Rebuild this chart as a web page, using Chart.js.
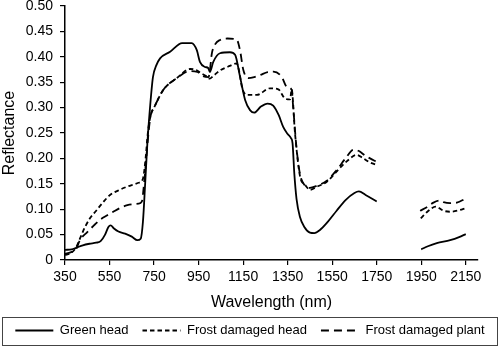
<!DOCTYPE html>
<html><head><meta charset="utf-8">
<script src="https://cdn.jsdelivr.net/npm/chart.js@4/dist/chart.umd.min.js"></script>
<style>html,body{margin:0;padding:0;background:#fff}#wrap{width:500px;height:349px;position:relative}</style>
</head><body><div id="wrap"><canvas id="c"></canvas></div>
<script>
// ---- data ----
const xTickValues = [350,550,750,950,1150,1350,1550,1750,1950,2150];
const yTickStep = 0.05;

const greenHeadNm = [350,380,400,430,460,490,510,530,545,555,570,590,620,650,675,690,700,710,720,730,745,760,777,822,876,919,942,956,979,993,1001,1016,1046,1091,1114,1136,1159,1181,1200,1230,1260,1285,1310,1330,1350,1365,1372,1380,1390,1405,1425,1450,1470,1495,1530,1570,1610,1650,1670,1700,1750,1850,1950,1980,2020,2080,2120,2150];
const greenHead   = [0.020,0.021,0.024,0.029,0.032,0.034,0.037,0.050,0.065,0.068,0.062,0.056,0.052,0.046,0.039,0.042,0.075,0.150,0.230,0.290,0.360,0.383,0.397,0.410,0.427,0.427,0.413,0.390,0.380,0.378,0.370,0.390,0.407,0.409,0.404,0.361,0.315,0.295,0.290,0.302,0.308,0.304,0.285,0.262,0.248,0.240,0.230,0.170,0.120,0.085,0.065,0.054,0.053,0.059,0.075,0.097,0.118,0.132,0.135,0.128,0.115,null,0.021,0.027,0.033,0.039,0.045,0.051];

const frostHeadNm = [350,375,400,420,440,462,490,520,552,590,627,660,680,700,712,722,735,750,792,852,912,940,960,985,1000,1015,1046,1090,1121,1133,1145,1166,1211,1271,1308,1338,1361,1368,1383,1406,1428,1451,1481,1526,1578,1620,1660,1690,1720,1750,1850,1948,1980,2015,2050,2080,2120,2150];
const frostHead   = [0.010,0.013,0.025,0.045,0.065,0.082,0.097,0.113,0.128,0.137,0.144,0.149,0.152,0.160,0.200,0.250,0.285,0.300,0.335,0.358,0.376,0.374,0.368,0.362,0.357,0.362,0.373,0.382,0.387,0.370,0.340,0.325,0.325,0.338,0.336,0.318,0.316,0.336,0.250,0.164,0.148,0.138,0.144,0.154,0.178,0.196,0.207,0.200,0.192,0.187,null,0.082,0.096,0.105,0.097,0.095,0.098,0.102];

const frostPlantNm = [350,375,400,417,450,480,507,540,567,600,630,657,680,695,705,715,725,735,750,792,852,912,945,970,995,1000,1009,1025,1046,1080,1121,1136,1151,1173,1200,1226,1260,1286,1323,1346,1368,1375,1390,1405,1425,1450,1480,1526,1570,1610,1645,1668,1700,1720,1750,1850,1945,1975,2005,2035,2050,2080,2110,2150];
const frostPlant   = [0.012,0.015,0.022,0.039,0.055,0.068,0.079,0.088,0.095,0.103,0.108,0.110,0.111,0.115,0.150,0.200,0.250,0.285,0.300,0.335,0.358,0.372,0.370,0.362,0.360,0.370,0.405,0.425,0.433,0.436,0.434,0.413,0.374,0.358,0.360,0.364,0.370,0.371,0.361,0.341,0.335,0.300,0.220,0.170,0.148,0.142,0.146,0.156,0.177,0.200,0.217,0.215,0.205,0.200,0.193,null,0.097,0.104,0.113,0.117,0.114,0.112,0.113,0.121];

const seriesNames = ['Green head','Frost damaged head','Frost damaged plant'];
const seriesDash = [[], [4.5, 3], [8, 5]];

// ---- chart ----
const FONT = '"Liberation Sans", Arial, Helvetica, sans-serif';
const toPts = (xs, ys) => xs.map((x, i) => ({x: x, y: ys[i]}));

const legendFrame = {
  id: 'legendFrame',
  afterDraw(chart) {
    const lg = chart.legend;
    if (!lg || !lg.legendHitBoxes || !lg.legendHitBoxes.length) return;
    const hb = lg.legendHitBoxes[0];
    const cy = hb.top + hb.height / 2;
    const ctx = chart.ctx;
    ctx.save();
    ctx.strokeStyle = '#444';
    ctx.lineWidth = 1;
    ctx.setLineDash([]);
    ctx.strokeRect(lg.left + 2.5, Math.round(cy - 14) + 0.5, lg.width - 5, 28);
    ctx.restore();
  }
};

const mkSet = (i, xs, ys) => ({
  label: seriesNames[i], data: toPts(xs, ys), borderColor: '#000', borderWidth: 1.8,
  borderDash: seriesDash[i], pointRadius: 0, fill: false, spanGaps: false,
  cubicInterpolationMode: 'monotone', yAxisID: 'y'
});

new Chart(document.getElementById('c'), {
  type: 'line',
  data: {
    datasets: [
      mkSet(0, greenHeadNm, greenHead),
      mkSet(1, frostHeadNm, frostHead),
      mkSet(2, frostPlantNm, frostPlant)
    ]
  },
  options: {
    responsive: true,
    maintainAspectRatio: false,
    animation: false,
    layout: {padding: {left: 0, right: 0, top: 0, bottom: 2}},
    plugins: {
      tooltip: {enabled: false},
      legend: {
        position: 'bottom',
        labels: {
          usePointStyle: true, pointStyle: 'line', pointStyleWidth: 38, padding: 14, color: '#000',
          font: {size: 13, family: FONT},
          generateLabels: (chart) => chart.data.datasets.map((ds, i) => ({
            text: ds.label, datasetIndex: i, hidden: false, pointStyle: 'line',
            strokeStyle: '#000', fillStyle: '#000', fontColor: '#000', lineWidth: 1.8,
            lineDash: seriesDash[i], lineCap: 'butt'
          }))
        }
      }
    },
    scales: {
      x: {
        type: 'linear',
        min: 350,
        max: 2205,
        afterBuildTicks: (s) => { s.ticks = xTickValues.map(v => ({value: v})); },
        afterFit: (s) => { s.height = 50; },
        grid: {display: true, drawOnChartArea: false, drawTicks: true, tickLength: 5, color: '#000', lineWidth: 1.2},
        border: {display: true, color: '#000', width: 1.5},
        ticks: {color: '#000', padding: 4, maxRotation: 0, autoSkip: false, font: {size: 14, family: FONT}, callback: (v) => String(v)},
        title: {display: true, text: 'Wavelength (nm)', color: '#000', padding: {top: 0, bottom: -2}, font: {size: 16, family: FONT}}
      },
      y: {
        position: 'left',
        min: 0,
        max: 0.5,
        afterFit: (s) => { s.width = 65; s.paddingTop = 6; },
        grid: {display: true, drawOnChartArea: false, drawTicks: true, tickLength: 5, color: '#000', lineWidth: 1.2},
        border: {display: true, color: '#000', width: 1.5},
        ticks: {stepSize: yTickStep, color: '#000', padding: 7, font: {size: 14, family: FONT}, callback: (v) => (Math.abs(v) < 1e-9 ? '0' : Number(v).toFixed(2))},
        title: {display: true, text: 'Reflectance', color: '#000', padding: {top: 0, bottom: 0}, font: {size: 16, family: FONT}}
      },
      rightSpace: {
        type: 'linear',
        position: 'right',
        display: true,
        afterFit: (s) => { s.width = 22; },
        grid: {display: false, drawTicks: false},
        border: {display: false},
        ticks: {display: false}
      }
    }
  },
  plugins: [legendFrame]
});
</script>
</body></html>
